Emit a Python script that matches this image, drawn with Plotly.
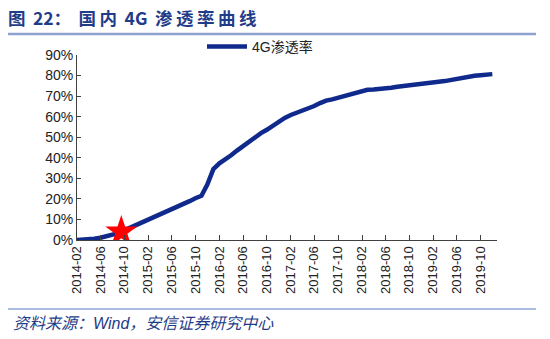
import plotly.graph_objects as go

# Monthly 4G penetration (%), 2014-02 .. 2019-12
months = [f"{y}-{m:02d}-01" for y in range(2014, 2020) for m in range(1, 13)][1:]
penetration = [
    0.0, 0.1, 0.2, 0.6, 1.1, 1.8, 2.5, 3.3, 4.7, 6.0, 7.2,
    8.4, 9.9, 11.1, 12.1, 13.2, 14.6, 16.0, 17.4, 18.9, 20.3, 21.5, 27.0,
    34.5, 37.3, 39.0, 41.2, 43.5, 45.8, 47.8, 49.8, 52.0, 53.6, 55.5, 57.8,
    59.4, 60.8, 61.8, 62.7, 64.0, 65.2, 66.6, 67.8, 68.4, 69.1, 70.1, 70.9,
    71.6, 72.4, 73.1, 73.2, 73.4, 73.7, 74.1, 74.6, 75.0, 75.3, 75.9, 76.3,
    76.6, 76.8, 77.0, 77.3, 77.9, 78.5, 79.1, 79.5, 79.9, 80.2, 80.5, 80.7,
]
series_name = "4G渗透率"

# Launch marker
star_date = ["2014-09-16"]
star_value = [4.0]

tick_dates = [f"{y}-{m:02d}-01" for y in range(2014, 2020) for m in (2, 6, 10)]
tick_labels = [d[:7] for d in tick_dates]
y_ticks = list(range(0, 91, 10))
y_tick_labels = [f"{v}%" for v in y_ticks]

title_text = "图\u2009 22：\u2009 国\u2009内\u2009 4G \u2009渗\u2009透\u2009率\u2009曲\u2009线"
source_text = "资料来源：Wind，安信证券研究中心"

BLUE_LINE = "#0f2a8c"
TITLE_BLUE = "#1f3c88"
AXIS = "#404040"

fig = go.Figure()
fig.add_trace(go.Scatter(
    x=months[:len(penetration)], y=penetration, mode="lines", name=series_name,
    line=dict(color=BLUE_LINE, width=4.5, shape="linear"),
))
fig.add_trace(go.Scatter(
    x=star_date, y=star_value, mode="markers", showlegend=False,
    marker=dict(symbol="star", size=24, color="#ff0000", line=dict(width=0)),
))

fig.update_layout(
    width=550, height=339,
    margin=dict(l=77, r=53, t=55, b=99),
    paper_bgcolor="white", plot_bgcolor="white",
    font=dict(family="Liberation Sans, Arial, Noto Sans CJK SC", color="#222"),
    showlegend=True,
    legend=dict(
        orientation="h", x=(202 - 77) / 420, xanchor="left", y=(240 - 47) / 185, yanchor="middle",
        font=dict(size=14, family="Liberation Sans, Noto Sans CJK SC", color="#222"),
        bgcolor="rgba(0,0,0,0)", itemwidth=40,
    ),
    xaxis=dict(
        type="date", range=["2014-02-01", "2019-12-25"],
        tickvals=tick_dates, ticktext=tick_labels, tickangle=-90,
        ticks="inside", ticklen=5, tickcolor=AXIS, tickwidth=1,
        showline=True, linecolor=AXIS, linewidth=1,
        showgrid=False, zeroline=False,
        tickfont=dict(size=13, color="#222"),
    ),
    yaxis=dict(
        range=[0, 90], tickvals=y_ticks, ticktext=y_tick_labels,
        ticks="inside", ticklen=4, tickcolor=AXIS, tickwidth=1,
        showline=True, linecolor=AXIS, linewidth=1,
        showgrid=False, zeroline=False,
        tickfont=dict(size=14, color="#222"),
    ),
)

# Header and footer rules
fig.add_shape(type="line", xref="paper", yref="paper",
              x0=-69 / 420, x1=459 / 420, y0=(240 - 34) / 185, y1=(240 - 34) / 185,
              line=dict(color="#8ea2cf", width=2.5))
fig.add_shape(type="line", xref="paper", yref="paper",
              x0=-69 / 420, x1=459 / 420, y0=(240 - 309) / 185, y1=(240 - 309) / 185,
              line=dict(color="#5a7bc4", width=1.2))

fig.add_annotation(
    text=f"<b>{title_text}</b>", xref="paper", yref="paper",
    x=-71 / 420, y=(240 - 17) / 185, xanchor="left", yanchor="middle",
    showarrow=False, font=dict(size=17.5, color=TITLE_BLUE, family="Noto Sans CJK SC"),
)
fig.add_annotation(
    text=f"<i>{source_text}</i>", xref="paper", yref="paper",
    x=-66 / 420, y=(240 - 323) / 185, xanchor="left", yanchor="middle",
    showarrow=False, font=dict(size=16, color=TITLE_BLUE, family="Liberation Sans, Noto Sans CJK SC"),
)

fig.write_html("out.html")
